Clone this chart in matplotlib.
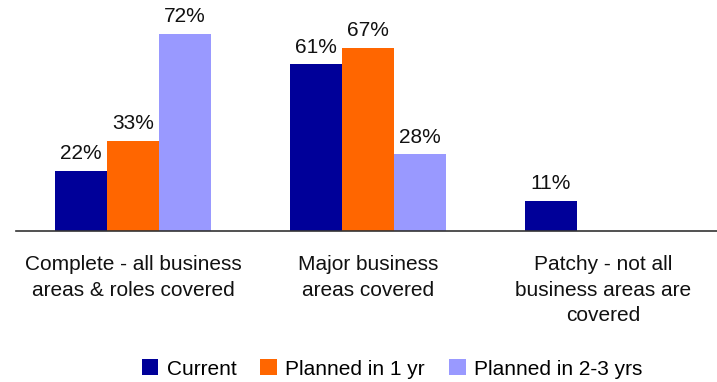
import matplotlib
matplotlib.use("Agg")
import matplotlib.pyplot as plt
from matplotlib.transforms import blended_transform_factory
import numpy as np

plt.rcParams['font.family'] = ['Liberation Sans', 'DejaVu Sans']

categories = ["Complete - all business\nareas & roles covered",
              "Major business\nareas covered",
              "Patchy - not all\nbusiness areas are\ncovered"]
series_names = ["Current", "Planned in 1 yr", "Planned in 2-3 yrs"]
current = [22, 61, 11]
planned_1yr = [33, 67, None]
planned_2_3yrs = [72, 28, None]
colors = ["#000099", "#FF6600", "#9999FF"]

FS = 15

fig = plt.figure(figsize=(7.17, 3.82), dpi=100)
ax = fig.add_axes([15.5 / 717, 151 / 382, 705 / 717, 231 / 382])

x = np.arange(len(categories))
width = 0.2213
offsets = [-width, 0, width]
handles = []
for vals, off, col, name in zip([current, planned_1yr, planned_2_3yrs], offsets, colors, series_names):
    xs = [xi + off for xi, v in zip(x, vals) if v is not None]
    ys = [v for v in vals if v is not None]
    bars = ax.bar(xs, ys, width=width, color=col, label=name, linewidth=0)
    handles.append(bars)
    for xi, v in zip(xs, ys):
        ax.text(xi, v + 4.2, f"{v}%", ha='center', va='baseline', fontsize=FS, color='#111111')

ax.set_xlim(-0.5, 2.5)
ax.set_ylim(0, 84.4)
for s in ['top', 'right', 'left']:
    ax.spines[s].set_visible(False)
ax.spines['bottom'].set_color('#333333')
ax.spines['bottom'].set_linewidth(1.2)
ax.set_yticks([])
ax.set_xticks([])

trans = blended_transform_factory(ax.transData, ax.transAxes)
for xi, cat in zip(x, categories):
    ax.text(xi, -0.105, cat, transform=trans, ha='center', va='top',
            fontsize=FS, linespacing=1.42, color='#111111')

fig.legend(handles=handles, labels=series_names, loc='center',
           bbox_to_anchor=(392 / 717, 1 - 369 / 382), ncol=3, frameon=False,
           fontsize=FS, handlelength=0.8, handleheight=0.8, handletextpad=0.4,
           columnspacing=1.15)

fig.savefig("out.png", dpi=100)
